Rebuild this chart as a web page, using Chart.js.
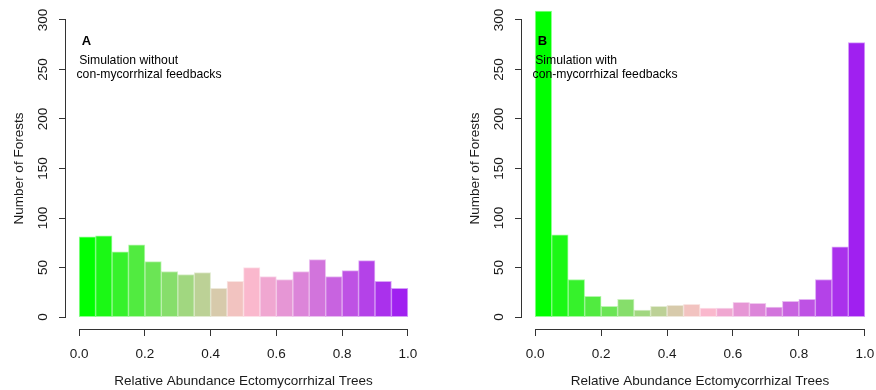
<!DOCTYPE html>
<html>
<head>
<meta charset="utf-8">
<script src="https://cdn.jsdelivr.net/npm/chart.js@4.4.1/dist/chart.umd.min.js"></script>
<style>
  html, body { margin: 0; padding: 0; background: #fff; overflow: hidden; }
  #wrap { position: relative; width: 876px; height: 390px; }
  canvas { position: absolute; top: 0; }
  #chartA { left: 0; }
  #chartB { left: 456px; }
</style>
</head>
<body>
<div id="wrap">
  <canvas id="chartA" width="440" height="390"></canvas>
  <canvas id="chartB" width="422" height="390"></canvas>
</div>
<script>
// histogram bins (mid points, width 0.05)
const binMids = [0.025, 0.075, 0.125, 0.175, 0.225, 0.275, 0.325, 0.375, 0.425, 0.475,
                 0.525, 0.575, 0.625, 0.675, 0.725, 0.775, 0.825, 0.875, 0.925, 0.975];

// A: without feedbacks, B: with feedbacks
const countsA = [81, 82, 66, 73, 56, 46, 43, 45, 29, 36, 50, 41, 38, 46, 58, 41, 47, 57, 36, 29];
const countsB = [309, 83, 38, 21, 11, 18, 7, 11, 12, 13, 9, 9, 15, 14, 10, 16, 18, 38, 71, 277];

const xTicks = [0, 0.2, 0.4, 0.6, 0.8, 1.0];
const yTicks = [0, 50, 100, 150, 200, 250, 300];

const panelLetters = ['A', 'B'];
const panelNotes = [
    ['Simulation without', 'con-mycorrhizal feedbacks'],
    ['Simulation with', 'con-mycorrhizal feedbacks']
];

// green -> pink -> purple ramp
const barColors = ['#00FF00', '#1BF815', '#36F22B', '#51EB40', '#6BE555', '#86DE6B', '#A1D780',
                   '#BCD196', '#D7CAAB', '#F2C3C0', '#FAB8CD', '#F0A7D1', '#E696D5', '#DC85D9',
                   '#D274DC', '#C863E0', '#BE52E4', '#B442E8', '#AA31EC', '#A020F0'];

const FONT = '"Liberation Sans", Arial, Helvetica, sans-serif';

// R-style axis lines (only tick range), rotated y labels and the panel notes
const rStyle = {
    id: 'rStyle',
    afterDraw(chart, args, opts) {
        const ctx = chart.ctx;
        const xs = chart.scales.x;
        const ys = chart.scales.y;
        const area = chart.chartArea;
        ctx.save();
        ctx.strokeStyle = '#333';
        ctx.lineWidth = 1;
        ctx.beginPath();
        const yb = Math.round(area.bottom) + 0.5;
        ctx.moveTo(xs.getPixelForValue(xTicks[0]), yb);
        ctx.lineTo(xs.getPixelForValue(xTicks[xTicks.length - 1]), yb);
        const xl = Math.round(area.left) - 0.5;
        ctx.moveTo(xl, ys.getPixelForValue(yTicks[0]));
        ctx.lineTo(xl, ys.getPixelForValue(yTicks[yTicks.length - 1]));
        ctx.stroke();

        ctx.fillStyle = '#1a1a1a';
        ctx.font = '13.5px ' + FONT;
        ctx.textAlign = 'center';
        ctx.textBaseline = 'middle';
        yTicks.forEach(v => {
            ctx.save();
            ctx.translate(area.left - 23, ys.getPixelForValue(v));
            ctx.rotate(-Math.PI / 2);
            ctx.fillText(String(v), 0, 0);
            ctx.restore();
        });

        ctx.fillStyle = '#000';
        ctx.font = 'bold 13px ' + FONT;
        ctx.fillText(opts.letter, xs.getPixelForValue(0.022), ys.getPixelForValue(278));
        ctx.font = '12.2px ' + FONT;
        ctx.textAlign = 'left';
        ctx.fillText(opts.notes[0], xs.getPixelForValue(0.0), ys.getPixelForValue(259));
        ctx.fillText(opts.notes[1], xs.getPixelForValue(-0.008), ys.getPixelForValue(245));
        ctx.restore();
    }
};

function makeChart(canvasId, counts, idx, padRight) {
    const ctx = document.getElementById(canvasId).getContext('2d');
    return new Chart(ctx, {
        type: 'bar',
        data: {
            datasets: [{
                data: counts.map((c, i) => ({ x: binMids[i], y: c })),
                backgroundColor: barColors,
                borderColor: barColors.map(c => c + '70'),
                borderWidth: 1,
                borderSkipped: false,
                barPercentage: 1,
                categoryPercentage: 1
            }]
        },
        options: {
            responsive: false,
            animation: false,
            layout: { padding: { left: 0, right: padRight, top: 8, bottom: 0 } },
            scales: {
                x: {
                    type: 'linear',
                    min: -0.04,
                    max: 1.04,
                    offset: false,
                    afterBuildTicks: s => { s.ticks = xTicks.map(v => ({ value: v })); },
                    afterFit: s => {
                        s.height = 61;
                        s.paddingLeft = 0;   // labels sit inside the expanded range
                        s.paddingRight = 0;
                    },
                    border: { display: false },
                    grid: { offset: false, drawOnChartArea: false, drawTicks: true, tickLength: 7, color: '#333' },
                    ticks: {
                        color: '#1a1a1a',
                        padding: 10,
                        maxRotation: 0,
                        autoSkip: false,
                        font: { size: 13.5, family: FONT },
                        callback: v => Number(v).toFixed(1)
                    },
                    title: {
                        display: true,
                        text: 'Relative Abundance Ectomycorrhizal Trees',
                        color: '#1a1a1a',
                        font: { size: 13.5, family: FONT },
                        padding: { top: 0, bottom: 1 }
                    }
                },
                y: {
                    min: -12,
                    max: 312,
                    afterBuildTicks: s => { s.ticks = yTicks.map(v => ({ value: v })); },
                    afterFit: s => { s.width = 66; },
                    border: { display: false },
                    grid: { drawOnChartArea: false, drawTicks: true, tickLength: 7, color: '#333' },
                    ticks: { display: false },
                    title: {
                        display: true,
                        text: 'Number of Forests',
                        color: '#1a1a1a',
                        font: { size: 13.5, family: FONT },
                        padding: { top: 11, bottom: 0 }
                    }
                }
            },
            plugins: {
                legend: { display: false },
                tooltip: { enabled: false },
                rStyle: { letter: panelLetters[idx], notes: panelNotes[idx] }
            }
        },
        plugins: [rStyle]
    });
}

makeChart('chartA', countsA, 0, 19);
makeChart('chartB', countsB, 1, 0);
</script>
</body>
</html>
